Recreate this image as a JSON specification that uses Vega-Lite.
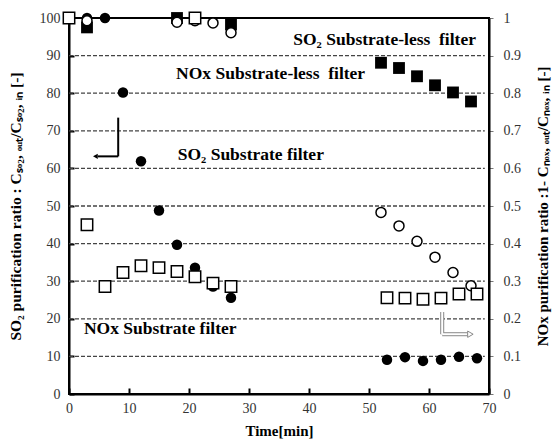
{
  "$schema": "https://vega.github.io/schema/vega-lite/v6.json",
  "width": 420,
  "height": 376,
  "autosize": {"type": "none"},
  "padding": {"left": 69, "top": 18, "right": 70, "bottom": 50},
  "background": "white",
  "config": {
    "view": {"stroke": "black", "strokeWidth": 2},
    "font": "Liberation Serif",
    "axis": {
      "labelFont": "Liberation Serif",
      "titleFont": "Liberation Serif",
      "labelFontSize": 14,
      "labelColor": "#333",
      "titleFontSize": 15,
      "titleFontWeight": "bold",
      "titleColor": "black",
      "domainColor": "black",
      "domainWidth": 2
    }
  },
  "datasets": {
    "gridlines": [
      {"g": 10}, {"g": 20}, {"g": 30}, {"g": 40}, {"g": 50},
      {"g": 60}, {"g": 70}, {"g": 80}, {"g": 90}
    ],
    "pts": [
      {"t": 3, "v": 0.975, "s": "NOx-less"},
      {"t": 18, "v": 1.0, "s": "NOx-less"},
      {"t": 27, "v": 0.983, "s": "NOx-less"},
      {"t": 52, "v": 0.881, "s": "NOx-less"},
      {"t": 55, "v": 0.867, "s": "NOx-less"},
      {"t": 58, "v": 0.845, "s": "NOx-less"},
      {"t": 61, "v": 0.821, "s": "NOx-less"},
      {"t": 64, "v": 0.802, "s": "NOx-less"},
      {"t": 67, "v": 0.778, "s": "NOx-less"},
      {"t": 3, "v": 100, "s": "SO2-sub"},
      {"t": 6, "v": 100, "s": "SO2-sub"},
      {"t": 9, "v": 80.2, "s": "SO2-sub"},
      {"t": 12, "v": 61.9, "s": "SO2-sub"},
      {"t": 15, "v": 48.8, "s": "SO2-sub"},
      {"t": 18, "v": 39.7, "s": "SO2-sub"},
      {"t": 21, "v": 33.6, "s": "SO2-sub"},
      {"t": 24, "v": 28.6, "s": "SO2-sub"},
      {"t": 27, "v": 25.6, "s": "SO2-sub"},
      {"t": 53, "v": 9.1, "s": "SO2-sub"},
      {"t": 56, "v": 9.8, "s": "SO2-sub"},
      {"t": 59, "v": 8.8, "s": "SO2-sub"},
      {"t": 62, "v": 9.1, "s": "SO2-sub"},
      {"t": 65, "v": 9.9, "s": "SO2-sub"},
      {"t": 68, "v": 9.5, "s": "SO2-sub"},
      {"t": 3, "v": 99.3, "s": "SO2-less"},
      {"t": 18, "v": 98.9, "s": "SO2-less"},
      {"t": 21, "v": 99.3, "s": "SO2-less"},
      {"t": 24, "v": 98.7, "s": "SO2-less"},
      {"t": 27, "v": 96.1, "s": "SO2-less"},
      {"t": 52, "v": 48.3, "s": "SO2-less"},
      {"t": 55, "v": 44.7, "s": "SO2-less"},
      {"t": 58, "v": 40.6, "s": "SO2-less"},
      {"t": 61, "v": 36.4, "s": "SO2-less"},
      {"t": 64, "v": 32.3, "s": "SO2-less"},
      {"t": 67, "v": 28.8, "s": "SO2-less"},
      {"t": 0, "v": 1.0, "s": "NOx-sub"},
      {"t": 3, "v": 0.45, "s": "NOx-sub"},
      {"t": 6, "v": 0.286, "s": "NOx-sub"},
      {"t": 9, "v": 0.323, "s": "NOx-sub"},
      {"t": 12, "v": 0.341, "s": "NOx-sub"},
      {"t": 15, "v": 0.336, "s": "NOx-sub"},
      {"t": 18, "v": 0.326, "s": "NOx-sub"},
      {"t": 21, "v": 0.312, "s": "NOx-sub"},
      {"t": 21, "v": 1.0, "s": "NOx-sub"},
      {"t": 24, "v": 0.295, "s": "NOx-sub"},
      {"t": 27, "v": 0.286, "s": "NOx-sub"},
      {"t": 53, "v": 0.256, "s": "NOx-sub"},
      {"t": 56, "v": 0.255, "s": "NOx-sub"},
      {"t": 59, "v": 0.252, "s": "NOx-sub"},
      {"t": 62, "v": 0.255, "s": "NOx-sub"},
      {"t": 65, "v": 0.266, "s": "NOx-sub"},
      {"t": 68, "v": 0.266, "s": "NOx-sub"}
    ],
    "labels": [
      {"t": 52.6, "v": 94.2, "label": "SO₂ Substrate-less\u00a0 filter"},
      {"t": 33.6, "v": 85.0, "label": "NOx Substrate-less\u00a0 filter"},
      {"t": 30.3, "v": 63.6, "label": "SO₂ Substrate filter"},
      {"t": 15.2, "v": 17.3, "label": "NOx Substrate filter"}
    ],
    "segs": [
      {"a": "L", "t": 8.2, "v": 73.5, "t2": 8.2, "v2": 63.2},
      {"a": "L", "t": 8.2, "v": 63.2, "t2": 4.8, "v2": 63.2},
      {"a": "R", "t": 62.2, "v": 21.8, "t2": 62.2, "v2": 15.9},
      {"a": "R", "t": 62.2, "v": 15.9, "t2": 66.4, "v2": 15.9}
    ],
    "heads": [
      {"a": "L", "t": 4.4, "v": 63.2},
      {"a": "R", "t": 66.9, "v": 15.9}
    ]
  },
  "layer": [
    {
      "data": {"name": "gridlines"},
      "mark": {"type": "rule", "color": "#444", "strokeWidth": 1.3, "strokeDash": [4, 2]},
      "encoding": {
        "x": {"datum": 0, "type": "quantitative", "scale": {"domain": [0, 70]}},
        "x2": {"datum": 69.3},
        "y": {"field": "g", "type": "quantitative", "scale": {"domain": [0, 100]}, "axis": null}
      }
    },
    {
      "data": {"name": "pts"},
      "transform": [{"filter": "datum.s === 'NOx-less'"}],
      "mark": {"type": "point", "shape": "square", "filled": true, "color": "black", "size": 140, "opacity": 1},
      "encoding": {
        "x": {"field": "t", "type": "quantitative", "scale": {"domain": [0, 70]},
          "axis": {"values": [0, 10, 20, 30, 40, 50, 60, 70], "title": "Time[min]", "ticks": true, "tickSize": -6, "tickColor": "black", "tickWidth": 2, "labelPadding": 13, "grid": false, "titlePadding": 8, "labelFlush": false}},
        "y": {"field": "v", "type": "quantitative", "scale": {"domain": [0, 1]},
          "axis": {"orient": "right", "values": [0, 0.1, 0.2, 0.3, 0.4, 0.5, 0.6, 0.7, 0.8, 0.9, 1], "format": "~g", "ticks": true, "tickSize": 4, "tickWidth": 1, "tickColor": "#777", "labelPadding": 10,
            "grid": false,
            "title": "NOx purification ratio :1- Cₙₒₓ, ₒᵤₜ/Cₙₒₓ, ᵢₙ [-]", "titleFontSize": 15, "titleAngle": 270, "titleBaseline": "bottom", "titlePadding": 30}}
      }
    },
    {
      "data": {"name": "pts"},
      "transform": [{"filter": "datum.s === 'SO2-sub'"}],
      "mark": {"type": "point", "shape": "circle", "filled": true, "color": "black", "size": 110, "opacity": 1},
      "encoding": {
        "x": {"field": "t", "type": "quantitative", "scale": {"domain": [0, 70]}},
        "y": {"field": "v", "type": "quantitative", "scale": {"domain": [0, 100]},
          "axis": {"orient": "left", "values": [0, 10, 20, 30, 40, 50, 60, 70, 80, 90, 100], "ticks": true, "tickSize": -5, "tickColor": "black", "tickWidth": 2, "labelPadding": 14,
            "grid": false,
            "title": "SO₂ purification ratio : Cₛₒ₂, ₒᵤₜ/Cₛₒ₂, ᵢₙ [-]", "titleFontSize": 15.5, "titlePadding": 16}}
      }
    },
    {
      "data": {"name": "pts"},
      "transform": [{"filter": "datum.s === 'SO2-less'"}],
      "mark": {"type": "point", "shape": "circle", "filled": true, "fill": "white", "stroke": "black", "strokeWidth": 1.5, "size": 100, "opacity": 1},
      "encoding": {
        "x": {"field": "t", "type": "quantitative", "scale": {"domain": [0, 70]}},
        "y": {"field": "v", "type": "quantitative", "scale": {"domain": [0, 100]}, "axis": null}
      }
    },
    {
      "data": {"name": "pts"},
      "transform": [{"filter": "datum.s === 'NOx-sub'"}],
      "mark": {"type": "point", "shape": "square", "filled": true, "fill": "white", "stroke": "black", "strokeWidth": 1.5, "size": 130, "opacity": 1},
      "encoding": {
        "x": {"field": "t", "type": "quantitative", "scale": {"domain": [0, 70]}},
        "y": {"field": "v", "type": "quantitative", "scale": {"domain": [0, 1]}, "axis": null}
      }
    },
    {
      "data": {"name": "labels"},
      "mark": {"type": "text", "font": "Liberation Serif", "fontWeight": "bold", "fontSize": 17.5, "align": "center", "baseline": "middle", "color": "black"},
      "encoding": {
        "x": {"field": "t", "type": "quantitative", "scale": {"domain": [0, 70]}},
        "y": {"field": "v", "type": "quantitative", "scale": {"domain": [0, 100]}, "axis": null},
        "text": {"field": "label"}
      }
    },
    {
      "data": {"name": "segs"},
      "transform": [{"filter": "datum.a === 'R'"}],
      "mark": {"type": "rule", "color": "#888", "strokeWidth": 4},
      "encoding": {
        "x": {"field": "t", "type": "quantitative", "scale": {"domain": [0, 70]}},
        "x2": {"field": "t2"},
        "y": {"field": "v", "type": "quantitative", "scale": {"domain": [0, 100]}, "axis": null},
        "y2": {"field": "v2"}
      }
    },
    {
      "data": {"name": "segs"},
      "transform": [{"filter": "datum.a === 'R'"}],
      "mark": {"type": "rule", "color": "white", "strokeWidth": 2},
      "encoding": {
        "x": {"field": "t", "type": "quantitative", "scale": {"domain": [0, 70]}},
        "x2": {"field": "t2"},
        "y": {"field": "v", "type": "quantitative", "scale": {"domain": [0, 100]}, "axis": null},
        "y2": {"field": "v2"}
      }
    },
    {
      "data": {"name": "segs"},
      "transform": [{"filter": "datum.a === 'L'"}],
      "mark": {"type": "rule", "color": "black", "strokeWidth": 2},
      "encoding": {
        "x": {"field": "t", "type": "quantitative", "scale": {"domain": [0, 70]}},
        "x2": {"field": "t2"},
        "y": {"field": "v", "type": "quantitative", "scale": {"domain": [0, 100]}, "axis": null},
        "y2": {"field": "v2"}
      }
    },
    {
      "data": {"name": "heads"},
      "transform": [{"filter": "datum.a === 'L'"}],
      "mark": {"type": "point", "shape": "triangle-left", "filled": true, "color": "black", "size": 30, "opacity": 1},
      "encoding": {
        "x": {"field": "t", "type": "quantitative", "scale": {"domain": [0, 70]}},
        "y": {"field": "v", "type": "quantitative", "scale": {"domain": [0, 100]}, "axis": null}
      }
    },
    {
      "data": {"name": "heads"},
      "transform": [{"filter": "datum.a === 'R'"}],
      "mark": {"type": "point", "shape": "triangle-right", "filled": true, "fill": "white", "stroke": "#888", "strokeWidth": 1, "size": 40, "opacity": 1},
      "encoding": {
        "x": {"field": "t", "type": "quantitative", "scale": {"domain": [0, 70]}},
        "y": {"field": "v", "type": "quantitative", "scale": {"domain": [0, 100]}, "axis": null}
      }
    }
  ],
  "resolve": {"scale": {"y": "independent"}, "axis": {"y": "independent"}}
}
